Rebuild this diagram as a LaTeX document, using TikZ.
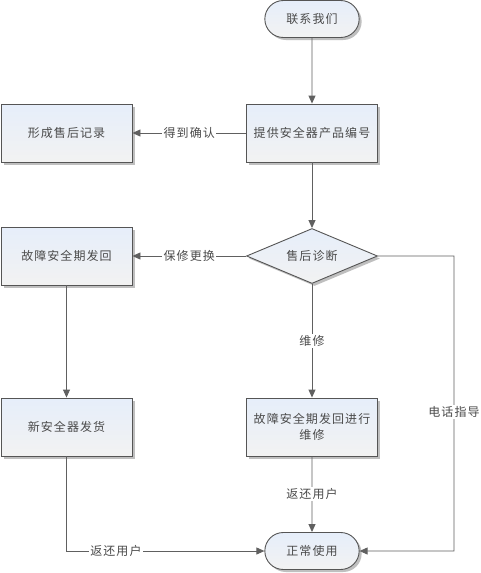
\documentclass[tikz,border=0pt]{standalone}
\usepackage{fontspec}
\newfontfamily\cjk[LetterSpace=9]{Noto Sans CJK SC}
\usetikzlibrary{shapes.geometric,shapes.misc,arrows.meta,shadows}
\definecolor{edgec}{HTML}{555555}
\definecolor{linec}{HTML}{606060}
\definecolor{textc}{HTML}{4A4A4A}
\definecolor{topc}{HTML}{E6EEFA}
\definecolor{botc}{HTML}{F2F2F2}
\tikzset{
  base/.style={draw=edgec, line width=0.9pt, top color=topc, bottom color=botc,
    text=textc, font=\cjk\fontsize{12}{16}\selectfont, align=center,
    drop shadow={shadow xshift=2.5pt, shadow yshift=-2.5pt, fill=black!25, opacity=1}},
  procbox/.style={base, rectangle, minimum width=131pt, minimum height=58pt, inner sep=2pt},
  termbox/.style={base, rounded rectangle, minimum width=101pt, minimum height=37pt},
  decbox/.style={base, diamond, aspect=2.4, minimum width=131pt, minimum height=55pt, inner sep=0pt},
  conn/.style={draw=linec, line width=0.9pt, -{Triangle[length=8pt,width=7pt]}},
  lbl/.style={fill=white, text=textc, font=\cjk\fontsize{12}{16}\selectfont, inner sep=1.5pt}
}
\begin{document}
\begin{tikzpicture}[x=1pt,y=-1pt]
\useasboundingbox[fill=white] (0,0) rectangle (481,573);
\node[termbox] (start) at (312,19) {联系我们};
\node[procbox] (prov) at (312,133) {提供安全器产品编号};
\node[procbox] (rec) at (66.5,133) {形成售后记录};
\node[decbox] (diag) at (312,256) {售后诊断};
\node[procbox] (ret) at (66.5,256) {故障安全期发回};
\node[procbox] (new) at (66.5,427) {新安全器发货};
\node[procbox] (rep) at (312,427) {故障安全期发回进行\\维修};
\node[termbox] (use) at (312,551) {正常使用};
\coordinate (rc1) at (454,256);
\coordinate (rc2) at (454,551);
\coordinate (lc) at (66.5,551);

\draw[conn] (start) -- (prov);
\draw[conn] (prov) -- node[lbl]{得到确认} (rec);
\draw[conn] (prov) -- (diag);
\draw[conn] (diag) -- node[lbl]{保修更换} (ret);
\draw[conn] (ret) -- (new);
\draw[conn] (diag) -- node[lbl, pos=0.5]{维修} (rep);
\draw[conn] (rep) -- node[lbl]{返还用户} (use);
\draw[conn] (new.south) -- (lc) -- node[lbl, pos=0.25]{返还用户} (use);
\draw[conn] (diag.east) -- (rc1) -- node[lbl, pos=0.53]{电话指导} (rc2) -- (use);
\end{tikzpicture}
\end{document}
